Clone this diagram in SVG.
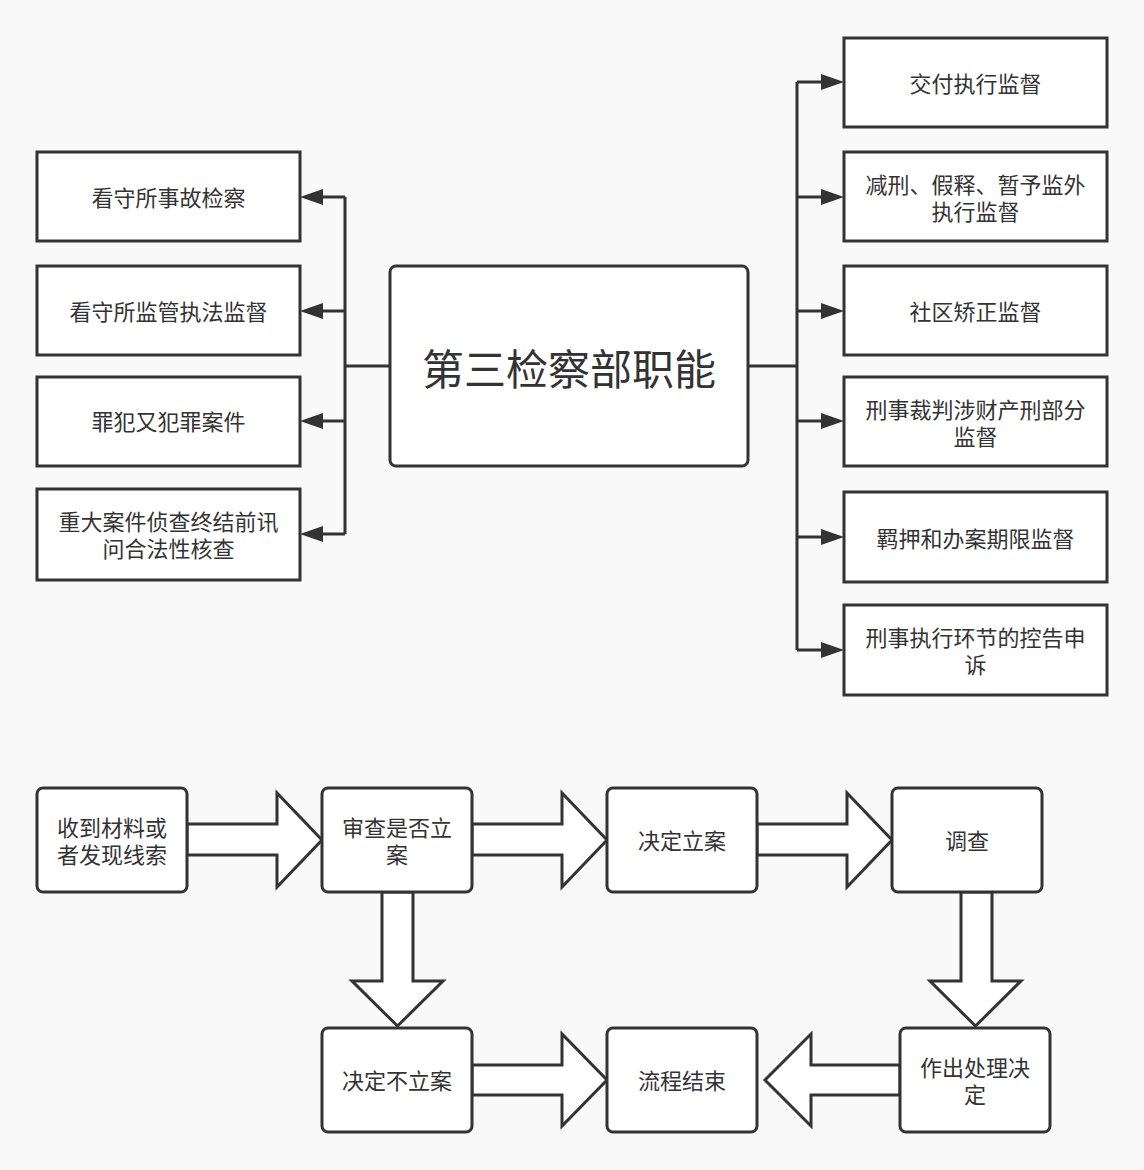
<svg xmlns="http://www.w3.org/2000/svg" width="1144" height="1170" viewBox="0 0 1144 1170">
<defs>
<style>
.n{fill:#fff;stroke:#333;stroke-width:3}
.t{font-family:"Noto Sans CJK SC","Noto Sans",sans-serif;font-size:22px;fill:#333;text-anchor:middle;dominant-baseline:central}
.big{font-size:42px}
.c{fill:none;stroke:#333;stroke-width:3}
.ah{fill:#333;stroke:none}
.ba{fill:#fff;stroke:#333;stroke-width:3;stroke-linejoin:miter}
</style>
</defs>
<rect x="0" y="0" width="1144" height="1170" fill="#f9f9f9"/>
<g id="connectors">
<path class="c" d="M390 366H345M345 197V534M345 197H320M345 311H320M345 421H320M345 534H320"/>
<path class="ah" d="M300 197L323 189V205Z"/>
<path class="ah" d="M300 311L323 303V319Z"/>
<path class="ah" d="M300 421L323 413V429Z"/>
<path class="ah" d="M300 534L323 526V542Z"/>
<path class="c" d="M748 366H797M797 82V650M797 82H824M797 197H824M797 311H824M797 421H824M797 537H824M797 650H824"/>
<path class="ah" d="M844 82L821 74V90Z"/>
<path class="ah" d="M844 197L821 189V205Z"/>
<path class="ah" d="M844 311L821 303V319Z"/>
<path class="ah" d="M844 421L821 413V429Z"/>
<path class="ah" d="M844 537L821 529V545Z"/>
<path class="ah" d="M844 650L821 642V658Z"/>
<path class="ba" d="M187 824H277V793L322 840L277 887V855H187Z"/>
<path class="ba" d="M472 824H562V793L607 840L562 887V855H472Z"/>
<path class="ba" d="M757 824H847V793L892 840L847 887V855H757Z"/>
<path class="ba" d="M382 892V981H352L397.5 1026L443 981H413V892Z"/>
<path class="ba" d="M961 892V981H930L975.5 1026L1021 981H992V892Z"/>
<path class="ba" d="M472 1065H562V1034L607 1080L562 1126V1095H472Z"/>
<path class="ba" d="M900 1065H811V1034L765 1080L811 1126V1095H900Z"/>
</g>
<g id="center"><rect class="n" x="390" y="266" width="358" height="200" rx="6"/><text class="t big" x="569" y="366">第三检察部职能</text></g>
<g id="l1"><rect class="n" x="37" y="152" width="263" height="89"/><text class="t" x="168.5" y="196">看守所事故检察</text></g>
<g id="l2"><rect class="n" x="37" y="266" width="263" height="89"/><text class="t" x="168.5" y="310">看守所监管执法监督</text></g>
<g id="l3"><rect class="n" x="37" y="377" width="263" height="89"/><text class="t" x="168.5" y="420">罪犯又犯罪案件</text></g>
<g id="l4"><rect class="n" x="37" y="489" width="263" height="91"/><text class="t" x="168.5" y="520"><tspan x="168.5" y="520">重大案件侦查终结前讯</tspan><tspan x="168.5" y="547">问合法性核查</tspan></text></g>
<g id="r1"><rect class="n" x="844" y="38" width="263" height="89"/><text class="t" x="975.5" y="82">交付执行监督</text></g>
<g id="r2"><rect class="n" x="844" y="152" width="263" height="89"/><text class="t" x="975.5" y="183"><tspan x="975.5" y="183">减刑、假释、暂予监外</tspan><tspan x="975.5" y="210">执行监督</tspan></text></g>
<g id="r3"><rect class="n" x="844" y="266" width="263" height="89"/><text class="t" x="975.5" y="310">社区矫正监督</text></g>
<g id="r4"><rect class="n" x="844" y="377" width="263" height="89"/><text class="t" x="975.5" y="408"><tspan x="975.5" y="408">刑事裁判涉财产刑部分</tspan><tspan x="975.5" y="435">监督</tspan></text></g>
<g id="r5"><rect class="n" x="844" y="492" width="263" height="90"/><text class="t" x="975.5" y="537">羁押和办案期限监督</text></g>
<g id="r6"><rect class="n" x="844" y="605" width="263" height="90"/><text class="t" x="975.5" y="636"><tspan x="975.5" y="636">刑事执行环节的控告申</tspan><tspan x="975.5" y="663">诉</tspan></text></g>
<g id="b1"><rect class="n" x="37" y="788" width="150" height="104" rx="6"/><text class="t" x="112" y="826"><tspan x="112" y="826">收到材料或</tspan><tspan x="112" y="853">者发现线索</tspan></text></g>
<g id="b2"><rect class="n" x="322" y="788" width="150" height="104" rx="6"/><text class="t" x="397" y="826"><tspan x="397" y="826">审查是否立</tspan><tspan x="397" y="853">案</tspan></text></g>
<g id="b3"><rect class="n" x="607" y="788" width="150" height="104" rx="6"/><text class="t" x="682" y="839">决定立案</text></g>
<g id="b4"><rect class="n" x="892" y="788" width="150" height="104" rx="6"/><text class="t" x="967" y="839">调查</text></g>
<g id="b5"><rect class="n" x="322" y="1028" width="150" height="104" rx="6"/><text class="t" x="397" y="1079">决定不立案</text></g>
<g id="b6"><rect class="n" x="607" y="1028" width="150" height="104" rx="6"/><text class="t" x="682" y="1079">流程结束</text></g>
<g id="b7"><rect class="n" x="900" y="1028" width="150" height="104" rx="6"/><text class="t" x="975" y="1066"><tspan x="975" y="1066">作出处理决</tspan><tspan x="975" y="1093">定</tspan></text></g>
</svg>
